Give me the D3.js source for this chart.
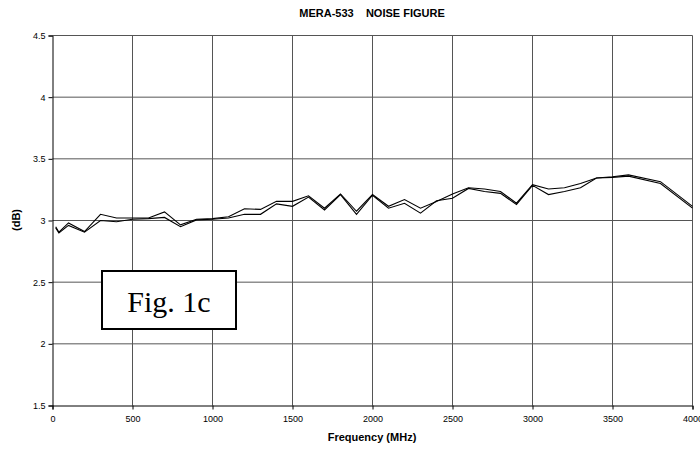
<!DOCTYPE html>
<html>
<head>
<meta charset="utf-8">
<script src="https://cdn.jsdelivr.net/npm/d3@7"></script>
<style>
  body { margin: 0; background: #fff; }
  svg { display: block; font-family: "Liberation Sans", Arial, sans-serif; }
</style>
</head>
<body>
<svg id="chart" width="700" height="451"></svg>
<script>
// frequencies (MHz) shared by both traces
const freqs = [20, 40, 100, 200, 300, 400, 500, 600, 700, 800, 900, 1000, 1100, 1200, 1300,
  1400, 1500, 1600, 1700, 1800, 1900, 2000, 2100, 2200, 2300, 2400, 2500, 2600, 2700, 2800,
  2900, 3000, 3100, 3200, 3300, 3400, 3500, 3600, 3800, 4000];

const nfA = [2.95, 2.905, 2.98, 2.91, 3.05, 3.02, 3.02, 3.02, 3.07, 2.965, 3.01, 3.015, 3.03, 3.095, 3.09,
  3.155, 3.155, 3.20, 3.10, 3.215, 3.075, 3.21, 3.115, 3.17, 3.10, 3.155, 3.215, 3.265, 3.255, 3.235,
  3.14, 3.29, 3.255, 3.265, 3.30, 3.345, 3.355, 3.37, 3.315, 3.115];

const nfB = [2.94, 2.90, 2.96, 2.905, 3.00, 2.99, 3.01, 3.015, 3.025, 2.95, 3.005, 3.01, 3.02, 3.05, 3.05,
  3.135, 3.115, 3.19, 3.085, 3.21, 3.05, 3.205, 3.10, 3.14, 3.06, 3.16, 3.18, 3.26, 3.235, 3.22,
  3.13, 3.285, 3.21, 3.235, 3.265, 3.345, 3.35, 3.36, 3.30, 3.10];

const xTicks = [0, 500, 1000, 1500, 2000, 2500, 3000, 3500, 4000];
const yTicks = [1.5, 2, 2.5, 3, 3.5, 4, 4.5];

const svg = d3.select('#chart');
const plotL = 52.5, plotR = 692.5, plotT = 35.5, plotB = 405.5;

let xScale = d3.scaleLinear().domain([0, 4000]).range([plotL, plotR]);
let yScale = d3.scaleLinear().domain([1.5, 4.5]).range([plotB, plotT]);

// grid
svg.append('g').selectAll('line')
  .data(xTicks.slice(1)).enter().append('line')
  .attr('x1', d => xScale(d)).attr('x2', d => xScale(d))
  .attr('y1', plotT).attr('y2', plotB)
  .attr('stroke', '#555').attr('stroke-width', 1);

svg.append('g').selectAll('line')
  .data(yTicks.slice(1)).enter().append('line')
  .attr('x1', plotL).attr('x2', plotR)
  .attr('y1', d => yScale(d)).attr('y2', d => yScale(d))
  .attr('stroke', '#555').attr('stroke-width', 1);

// axes
let xAxis = d3.axisBottom(xScale).tickValues(xTicks).tickSize(4).tickPadding(6)
  .tickFormat(d3.format('d'));
svg.append('g')
  .attr('transform', `translate(0, ${plotB})`)
  .call(xAxis)
  .call(g => g.selectAll('text').attr('font-size', 9).attr('fill', '#000'))
  .call(g => g.select('.domain').attr('stroke', '#000'));

let yAxis = d3.axisLeft(yScale).tickValues(yTicks).tickSize(4).tickPadding(3)
  .tickFormat(d3.format('~g'));
svg.append('g')
  .attr('transform', `translate(${plotL}, 0)`)
  .call(yAxis)
  .call(g => g.selectAll('text').attr('font-size', 9).attr('fill', '#000'))
  .call(g => g.select('.domain').attr('stroke', '#000'));

// traces
let line = d3.line()
  .x((d, i) => xScale(freqs[i]))
  .y(d => yScale(d));

[nfA, nfB].forEach(s => {
  svg.append('path')
    .datum(s)
    .attr('d', line)
    .attr('fill', 'none')
    .attr('stroke', '#000')
    .attr('stroke-width', 1.1);
});

// titles
svg.append('text')
  .attr('x', 372).attr('y', 17)
  .attr('text-anchor', 'middle')
  .attr('font-size', 11).attr('font-weight', 'bold')
  .attr('xml:space', 'preserve')
  .text('MERA-533    NOISE FIGURE');

svg.append('text')
  .attr('x', 372).attr('y', 441)
  .attr('text-anchor', 'middle')
  .attr('font-size', 11).attr('font-weight', 'bold')
  .text('Frequency (MHz)');

svg.append('text')
  .attr('transform', 'translate(20, 220) rotate(-90)')
  .attr('text-anchor', 'middle')
  .attr('font-size', 11).attr('font-weight', 'bold')
  .text('(dB)');

// figure label box
svg.append('rect')
  .attr('x', 102).attr('y', 271)
  .attr('width', 134).attr('height', 58)
  .attr('fill', '#fff').attr('stroke', '#000').attr('stroke-width', 2);

svg.append('text')
  .attr('x', 169).attr('y', 312)
  .attr('text-anchor', 'middle')
  .attr('font-family', '"Liberation Serif", "Times New Roman", serif')
  .attr('font-size', 30)
  .text('Fig. 1c');
</script>
</body>
</html>
